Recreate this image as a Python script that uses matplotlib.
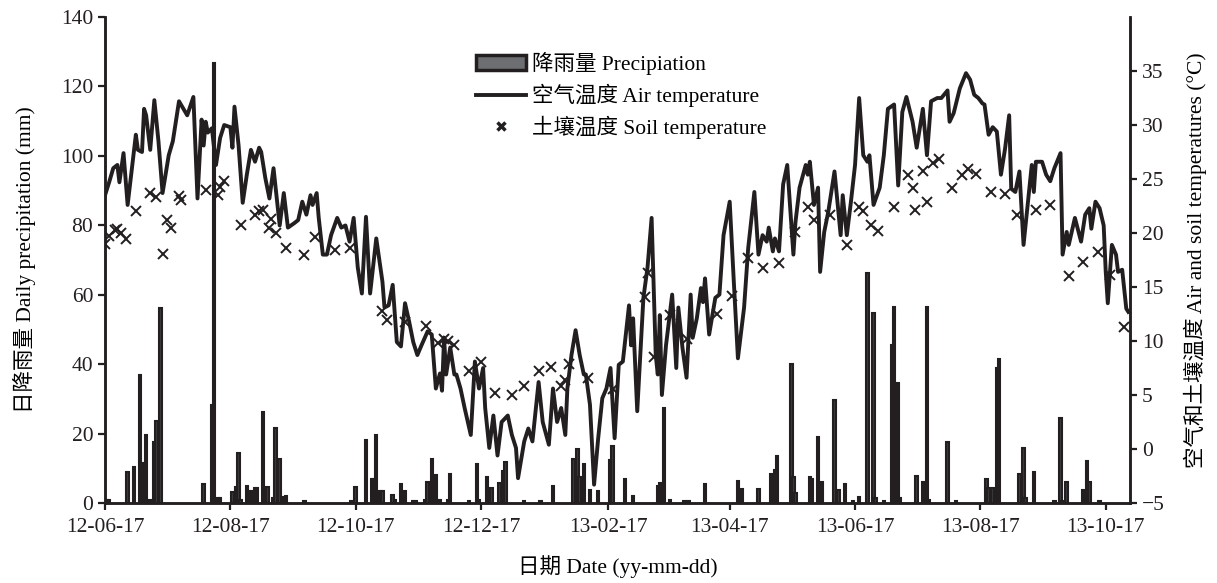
import matplotlib
matplotlib.use("Agg")
import matplotlib.pyplot as plt
from matplotlib.patches import Patch
from matplotlib.lines import Line2D
import pandas as pd

plt.rcParams['font.family'] = ['Liberation Serif', 'Noto Sans CJK SC', 'DejaVu Sans']
plt.rcParams['font.size'] = 15.5

START = pd.Timestamp("2012-06-17")

# daily precipitation (mm), day offset from 2012-06-17
rain_day = [1, 2, 11, 14, 17, 18, 20, 22, 24, 25, 27, 48, 52, 53, 54, 55, 56, 62, 64, 65,
            66, 69, 70, 71, 73, 74, 77, 79, 82, 83, 85, 87, 88, 97, 120, 122, 127, 130, 131, 132,
            134, 135, 140, 141, 144, 146, 150, 151, 156, 157, 159, 161, 163, 167, 168, 177, 181, 182, 186, 188,
            192, 194, 195, 204, 212, 218, 228, 230, 231, 233, 236, 240, 246, 247, 253, 257, 269, 270, 272, 275,
            282, 284, 292, 308, 310, 318, 324, 326, 327, 334, 335, 336, 343, 344, 347, 349, 355, 357, 360, 364,
            367, 371, 374, 375, 379, 383, 384, 386, 387, 395, 398, 400, 401, 410, 414, 429, 430, 432, 434, 435,
            445, 447, 448, 452, 462, 465, 466, 468, 476, 478, 479, 484]
rain_mm = [1.0, 1.0, 9.0, 10.5, 36.9, 11.6, 19.6, 0.8, 17.7, 23.7, 56.1, 5.5, 28.2, 126.7, 1.0, 1.3, 1.5, 3.3, 4.7, 14.5,
           1.0, 4.9, 3.6, 3.6, 4.2, 4.2, 26.1, 4.5, 1.3, 21.7, 12.6, 1.8, 2.0, 0.6, 0.6, 4.5, 18.1, 6.9, 6.9, 19.6,
           3.6, 3.6, 2.3, 1.0, 5.5, 3.6, 0.6, 0.6, 1.0, 6.1, 12.6, 8.1, 1.0, 1.0, 8.5, 0.5, 11.1, 1.0, 7.6, 4.2,
           5.7, 9.2, 11.9, 0.5, 0.5, 5.0, 12.6, 15.5, 7.6, 11.1, 3.7, 3.5, 12.4, 16.4, 6.8, 2.0, 4.9, 5.7, 27.3, 1.0,
           0.5, 0.5, 5.5, 6.4, 3.9, 3.9, 8.4, 9.5, 13.5, 40.0, 7.5, 3.0, 7.5, 6.8, 19.1, 6.0, 29.7, 3.7, 5.4, 0.5,
           1.8, 66.2, 54.6, 1.5, 0.5, 45.5, 56.6, 34.5, 1.5, 7.9, 6.1, 56.6, 1.0, 17.7, 0.5, 6.9, 4.4, 4.4, 39.0, 41.5,
           8.5, 15.9, 1.5, 8.8, 0.5, 24.6, 0.5, 6.0, 3.7, 12.1, 6.0, 0.5]

# air temperature (deg C)
air_day = [0, 2, 4, 6, 7, 9, 11, 15, 16, 18, 19, 20, 22, 24, 26, 28, 31, 33, 36, 40,
           43, 45, 47, 48, 49, 50, 52, 54, 56, 58, 61, 62, 63, 65, 67, 69, 71, 73, 75, 76,
           78, 80, 82, 85, 87, 89, 92, 94, 96, 98, 100, 101, 103, 104, 106, 108, 110, 113, 115, 117,
           119, 121, 123, 125, 127, 129, 132, 135, 136, 138, 140, 142, 144, 146, 148, 150, 152, 154, 157, 159,
           161, 163, 164, 165, 166, 168, 170, 171, 173, 175, 178, 180, 182, 184, 185, 187, 189, 191, 193, 196,
           198, 200, 201, 204, 206, 208, 211, 213, 216, 218, 220, 222, 224, 225, 227, 229, 231, 233, 234, 236,
           238, 240, 242, 244, 246, 248, 250, 252, 255, 256, 257, 259, 262, 264, 266, 268, 269, 270, 271, 273,
           276, 278, 279, 281, 283, 285, 286, 288, 290, 291, 292, 294, 297, 299, 301, 304, 306, 308, 311, 313,
           316, 318, 320, 322, 323, 325, 326, 328, 330, 332, 335, 336, 338, 341, 342, 343, 345, 347, 348, 350,
           352, 355, 358, 359, 361, 363, 365, 367, 369, 371, 372, 374, 377, 379, 381, 384, 386, 388, 390, 393,
           395, 397, 398, 400, 402, 405, 407, 410, 411, 413, 416, 419, 421, 423, 425, 427, 428, 430, 432, 434,
           436, 438, 440, 441, 443, 445, 447, 449, 451, 452, 453, 456, 458, 460, 462, 465, 466, 468, 469, 472,
           475, 477, 479, 480, 482, 484, 486, 487, 488, 490, 492, 493, 495, 497, 498]
air_temp = [23.5, 24.7, 26.0, 26.3, 24.7, 27.4, 22.6, 29.1, 27.7, 27.5, 31.5, 30.9, 27.7, 32.3, 28.5, 23.7, 27.2, 28.5, 32.2, 30.9,
            32.6, 23.2, 30.5, 28.1, 30.3, 29.3, 29.7, 26.3, 28.8, 30.0, 29.8, 27.9, 31.7, 28.1, 22.8, 25.4, 27.7, 26.6, 27.9, 27.5,
            25.1, 23.2, 26.0, 20.7, 23.7, 20.5, 20.9, 21.2, 22.9, 21.7, 23.5, 22.6, 23.7, 21.4, 18.0, 18.0, 19.8, 21.4, 20.5, 20.7,
            19.2, 21.4, 16.8, 14.4, 21.5, 14.4, 19.5, 15.5, 13.1, 13.3, 15.2, 9.9, 9.5, 13.5, 11.8, 9.9, 8.7, 9.6, 10.9, 10.6,
            5.6, 7.0, 5.4, 10.3, 6.9, 9.4, 6.9, 6.9, 5.6, 3.8, 1.3, 8.1, 5.6, 7.5, 3.8, 0.1, 3.1, -0.6, 2.5, 3.1,
            1.3, 0.1, -2.7, 0.7, 1.9, 0.7, 6.2, 2.5, 0.4, 5.6, 2.5, 3.8, 1.3, 5.6, 8.7, 11.0, 8.7, 6.9, 6.9, 4.1,
            -3.3, 1.0, 4.7, 5.6, 7.5, 1.0, 7.8, 8.1, 13.3, 9.6, 12.1, 3.5, 14.0, 16.8, 21.4, 8.7, 6.9, 12.4, 5.0, 9.6,
            14.3, 7.5, 13.1, 9.4, 6.6, 14.3, 10.3, 12.1, 14.9, 13.6, 15.8, 10.6, 14.0, 14.3, 19.8, 22.9, 15.5, 8.4, 13.1, 18.6,
            23.8, 18.0, 19.8, 19.2, 20.5, 18.3, 19.5, 18.3, 24.5, 26.3, 18.0, 21.0, 24.2, 26.3, 25.4, 26.6, 22.6, 24.2, 16.4, 20.1,
            22.0, 25.7, 19.8, 23.5, 19.8, 22.9, 26.3, 32.5, 27.2, 26.6, 27.2, 22.6, 24.2, 27.2, 31.5, 31.9, 24.4, 31.2, 32.6, 30.3,
            27.9, 30.3, 31.5, 27.2, 32.2, 32.5, 32.5, 33.2, 30.3, 31.1, 33.4, 34.8, 34.2, 32.8, 32.5, 32.0, 31.9, 29.1, 29.8, 29.4,
            25.4, 27.8, 30.9, 24.1, 23.8, 25.7, 18.9, 22.6, 26.3, 23.8, 26.6, 26.6, 25.4, 24.8, 26.0, 27.4, 18.0, 20.1, 18.9, 21.4,
            19.2, 21.7, 22.3, 20.4, 22.9, 22.3, 20.7, 16.4, 13.5, 18.9, 18.0, 16.4, 16.6, 13.0, 12.7]

# soil temperature (deg C)
soil_day = [0, 2, 5, 6, 8, 10, 15, 22, 25, 28, 30, 32, 36, 37, 49, 55, 56, 58, 66, 73,
            75, 77, 80, 81, 83, 88, 97, 102, 112, 119, 135, 137, 146, 156, 162, 165, 167, 170, 177, 183,
            190, 198, 204, 211, 217, 222, 224, 226, 235, 247, 263, 264, 267, 275, 283, 298, 305, 313, 320, 328,
            336, 342, 345, 353, 361, 367, 369, 373, 376, 384, 391, 393, 394, 398, 400, 403, 406, 412, 417, 420,
            424, 431, 438, 444, 453, 460, 469, 476, 483, 489, 496]
soil_temp = [19.0, 19.7, 20.3, 20.4, 20.0, 19.4, 22.0, 23.7, 23.3, 18.1, 21.2, 20.5, 23.4, 23.1, 24.0, 23.5, 24.3, 24.8, 20.7, 21.7,
             22.0, 22.1, 20.5, 21.3, 20.0, 18.6, 18.0, 19.6, 18.4, 18.6, 12.8, 11.9, 11.8, 11.4, 9.8, 10.2, 10.0, 9.6, 7.2, 8.1,
             5.2, 5.0, 5.8, 7.2, 7.6, 5.8, 6.4, 7.9, 6.6, 5.6, 14.1, 16.3, 8.5, 12.4, 10.2, 12.5, 14.2, 17.7, 16.8, 17.2,
             20.1, 22.4, 21.2, 21.7, 18.9, 22.4, 22.0, 20.7, 20.2, 22.4, 25.4, 24.2, 22.1, 25.7, 22.9, 26.5, 26.9, 24.2, 25.4, 25.9,
             25.5, 23.8, 23.6, 21.7, 22.1, 22.6, 16.0, 17.3, 18.2, 16.1, 11.3]

tick_dates = pd.date_range("2012-06-01", periods=9, freq="2MS") + pd.Timedelta(days=16)
tick_pos = [(d - START).days for d in tick_dates]
tick_lab = [d.strftime("%y-%m-%d") for d in tick_dates]

INK = "#231f20"

fig = plt.figure(figsize=(12.17, 5.83), dpi=100)
ax = fig.add_axes([0.0863, 0.1372, 0.8422, 0.8336])
ax2 = ax.twinx()

ax.bar(rain_day, rain_mm, width=1.2, color="#3a3a3c", edgecolor=INK, linewidth=1.5)
ax2.plot(air_day, air_temp, "-", color=INK, linewidth=2.8)
ax2.plot(soil_day, soil_temp, "x", color=INK, markersize=7, markeredgewidth=1.4, linestyle="none")

ax.set_xlim(0, 498.8)
ax.set_ylim(0, 140)
ax.set_yticks(range(0, 141, 20))
ax2.set_ylim(-5, 40)
ax2.set_yticks(range(-5, 36, 5))
ax.set_xticks(tick_pos)
ax.set_xticklabels(tick_lab)

for a in (ax, ax2):
    a.spines["top"].set_visible(False)
    for s in ("left", "right", "bottom"):
        a.spines[s].set_linewidth(1.8)
        a.spines[s].set_color(INK)
    a.tick_params(direction="out", length=5, width=1.6, colors=INK, labelsize=15.5)
ax.tick_params(axis="x", pad=6)

ax.set_xlabel("日期 Date (yy-mm-dd)", fontsize=15.5, labelpad=13)
ax.set_ylabel("日降雨量 Daily precipitation (mm)", fontsize=15.5, labelpad=18)
ax2.set_ylabel("空气和土壤温度 Air and soil temperatures (°C)", fontsize=15.5, labelpad=14)

handles = [
    Patch(facecolor="#6d6e71", edgecolor=INK, linewidth=2.5),
    Line2D([], [], color=INK, linewidth=2.8),
    Line2D([], [], marker="x", color=INK, markersize=6, markeredgewidth=2.5, linestyle="none"),
]
labels = ["降雨量 Precipiation", "空气温度 Air temperature", "土壤温度 Soil temperature"]
ax2.legend(handles, labels, loc="upper left", bbox_to_anchor=(0.377, 0.94),
           bbox_transform=fig.transFigure, frameon=False, fontsize=15.5,
           handlelength=2.3, handletextpad=0.3, labelspacing=0.4, borderpad=0.3)

fig.savefig("out.png", dpi=100, facecolor="white")
